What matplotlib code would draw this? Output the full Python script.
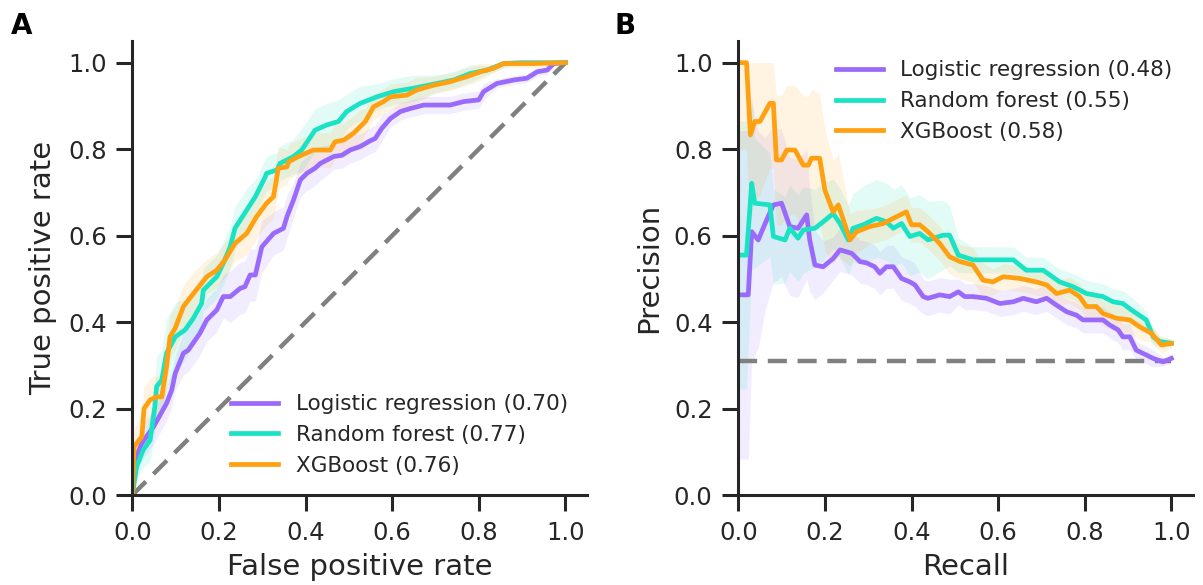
import numpy as np
import matplotlib
matplotlib.use('Agg')
import matplotlib.pyplot as plt

# ROC curves (mean) and spread across folds
lr_fpr = [0, 0.006, 0.022, 0.049, 0.079, 0.091, 0.099, 0.118, 0.129, 0.156, 0.172, 0.195, 0.21, 0.226, 0.249,
          0.26, 0.272, 0.284, 0.299, 0.326, 0.349, 0.357, 0.372, 0.388, 0.403, 0.422, 0.434, 0.465, 0.484, 0.503,
          0.526, 0.545, 0.561, 0.576, 0.596, 0.619, 0.642, 0.673, 0.734, 0.765, 0.8, 0.811, 0.842, 0.881, 0.911,
          0.935, 0.958, 0.973, 1.0]
lr_tpr = [0, 0.081, 0.12, 0.158, 0.212, 0.243, 0.281, 0.328, 0.335, 0.374, 0.405, 0.428, 0.459, 0.459, 0.478,
          0.482, 0.509, 0.509, 0.574, 0.605, 0.617, 0.644, 0.682, 0.729, 0.744, 0.756, 0.767, 0.783, 0.786, 0.798,
          0.806, 0.817, 0.825, 0.848, 0.871, 0.887, 0.894, 0.902, 0.902, 0.91, 0.914, 0.933, 0.952, 0.96, 0.964,
          0.979, 0.983, 0.998, 1.0]
lr_tpr_sd = [0, 0.03, 0.04, 0.04, 0.04, 0.04, 0.04, 0.05, 0.05, 0.05, 0.05, 0.05, 0.05, 0.06, 0.06,
             0.06, 0.06, 0.06, 0.06, 0.05, 0.05, 0.05, 0.04, 0.04, 0.04, 0.04, 0.04, 0.03, 0.03, 0.03,
             0.03, 0.03, 0.03, 0.03, 0.02, 0.02, 0.02, 0.02, 0.02, 0.02, 0.02, 0.02, 0.01, 0.01, 0.01,
             0.01, 0.01, 0.005, 0]

rf_fpr = [0, 0.01, 0.025, 0.041, 0.052, 0.056, 0.068, 0.079, 0.099, 0.122, 0.141, 0.16, 0.164, 0.195, 0.21,
          0.226, 0.237, 0.264, 0.284, 0.307, 0.31, 0.334, 0.341, 0.372, 0.391, 0.422, 0.449, 0.476, 0.495, 0.526,
          0.565, 0.603, 0.649, 0.703, 0.742, 0.78, 0.819, 0.857, 0.896, 1.0]
rf_tpr = [0, 0.066, 0.104, 0.127, 0.204, 0.251, 0.266, 0.328, 0.366, 0.382, 0.409, 0.443, 0.474, 0.505, 0.536,
          0.574, 0.617, 0.659, 0.69, 0.736, 0.744, 0.752, 0.767, 0.783, 0.798, 0.844, 0.856, 0.864, 0.887, 0.906,
          0.921, 0.933, 0.941, 0.952, 0.96, 0.975, 0.983, 0.998, 1.0, 1.0]
rf_tpr_sd = [0, 0.03, 0.04, 0.05, 0.06, 0.07, 0.07, 0.08, 0.08, 0.07, 0.06, 0.05, 0.05, 0.05, 0.05,
             0.05, 0.05, 0.05, 0.04, 0.04, 0.04, 0.04, 0.04, 0.04, 0.05, 0.05, 0.05, 0.05, 0.04, 0.04,
             0.03, 0.03, 0.03, 0.02, 0.02, 0.02, 0.01, 0.01, 0.0, 0.0]

xgb_fpr = [0, 0.004, 0.022, 0.027, 0.041, 0.056, 0.068, 0.079, 0.087, 0.099, 0.118, 0.141, 0.172, 0.195, 0.214,
           0.237, 0.264, 0.287, 0.31, 0.326, 0.337, 0.357, 0.361, 0.384, 0.418, 0.457, 0.468, 0.488, 0.511, 0.526,
           0.538, 0.557, 0.58, 0.596, 0.634, 0.657, 0.696, 0.734, 0.773, 0.804, 0.834, 0.857, 0.923, 1.0]
xgb_tpr = [0, 0.112, 0.135, 0.2, 0.22, 0.227, 0.227, 0.297, 0.366, 0.386, 0.436, 0.466, 0.505, 0.52, 0.544,
           0.582, 0.605, 0.644, 0.675, 0.69, 0.756, 0.759, 0.771, 0.783, 0.798, 0.798, 0.817, 0.821, 0.837, 0.852,
           0.864, 0.898, 0.91, 0.921, 0.925, 0.937, 0.948, 0.956, 0.968, 0.979, 0.987, 0.998, 0.998, 1.0]
xgb_tpr_sd = [0, 0.04, 0.05, 0.05, 0.05, 0.05, 0.05, 0.05, 0.05, 0.05, 0.05, 0.05, 0.04, 0.04, 0.04,
              0.04, 0.05, 0.05, 0.05, 0.05, 0.05, 0.04, 0.04, 0.04, 0.04, 0.04, 0.04, 0.04, 0.04, 0.04,
              0.03, 0.03, 0.03, 0.03, 0.03, 0.03, 0.02, 0.02, 0.02, 0.02, 0.01, 0.01, 0.01, 0.0]

# Precision-recall curves
lr_rec = [0.002, 0.023, 0.031, 0.046, 0.062, 0.081, 0.1, 0.119, 0.138, 0.158, 0.165, 0.177, 0.196, 0.219, 0.235,
          0.262, 0.281, 0.296, 0.315, 0.327, 0.342, 0.358, 0.377, 0.396, 0.408, 0.427, 0.438, 0.465, 0.488, 0.508,
          0.523, 0.542, 0.573, 0.604, 0.635, 0.658, 0.688, 0.712, 0.735, 0.758, 0.781, 0.796, 0.842, 0.858, 0.877,
          0.888, 0.904, 0.919, 0.942, 0.958, 0.981, 1.0]
lr_prec = [0.463, 0.463, 0.609, 0.59, 0.628, 0.671, 0.675, 0.621, 0.617, 0.648, 0.59, 0.532, 0.528, 0.547, 0.567,
           0.559, 0.54, 0.537, 0.528, 0.513, 0.528, 0.528, 0.501, 0.493, 0.486, 0.459, 0.455, 0.463, 0.459, 0.47,
           0.459, 0.459, 0.455, 0.443, 0.447, 0.455, 0.447, 0.455, 0.439, 0.424, 0.416, 0.405, 0.405, 0.393, 0.382,
           0.366, 0.366, 0.335, 0.324, 0.316, 0.308, 0.316]
lr_prec_sd = [0.38, 0.38, 0.3, 0.25, 0.2, 0.18, 0.17, 0.16, 0.16, 0.15, 0.12, 0.08, 0.06, 0.05, 0.05,
              0.05, 0.05, 0.05, 0.05, 0.05, 0.05, 0.05, 0.05, 0.05, 0.05, 0.04, 0.04, 0.04, 0.04, 0.03,
              0.03, 0.03, 0.03, 0.03, 0.03, 0.03, 0.03, 0.03, 0.03, 0.03, 0.03, 0.03, 0.03, 0.03, 0.03,
              0.03, 0.03, 0.02, 0.02, 0.02, 0.01, 0.01]

rf_rec = [0.002, 0.019, 0.031, 0.038, 0.073, 0.081, 0.108, 0.119, 0.138, 0.15, 0.177, 0.196, 0.219, 0.235, 0.254,
          0.265, 0.288, 0.319, 0.342, 0.358, 0.377, 0.396, 0.419, 0.438, 0.473, 0.488, 0.508, 0.542, 0.573, 0.635,
          0.665, 0.704, 0.742, 0.773, 0.804, 0.842, 0.865, 0.888, 0.908, 0.942, 0.958, 0.973, 1.0]
rf_prec = [0.555, 0.555, 0.721, 0.675, 0.671, 0.598, 0.59, 0.617, 0.594, 0.613, 0.617, 0.632, 0.651, 0.628, 0.59,
           0.617, 0.625, 0.64, 0.632, 0.617, 0.628, 0.598, 0.605, 0.59, 0.601, 0.601, 0.555, 0.544, 0.544, 0.544,
           0.52, 0.52, 0.493, 0.482, 0.466, 0.459, 0.447, 0.443, 0.428, 0.405, 0.366, 0.355, 0.351]
rf_prec_sd = [0.31, 0.31, 0.2, 0.15, 0.12, 0.11, 0.1, 0.1, 0.1, 0.1, 0.09, 0.09, 0.08, 0.08, 0.08,
              0.08, 0.09, 0.09, 0.09, 0.09, 0.09, 0.09, 0.09, 0.09, 0.08, 0.07, 0.04, 0.03, 0.03, 0.03,
              0.03, 0.03, 0.03, 0.03, 0.03, 0.03, 0.03, 0.03, 0.03, 0.02, 0.02, 0.01, 0.01]

xgb_rec = [0.002, 0.019, 0.028, 0.038, 0.05, 0.073, 0.081, 0.088, 0.1, 0.112, 0.131, 0.15, 0.162, 0.169, 0.188,
           0.2, 0.219, 0.231, 0.258, 0.273, 0.304, 0.335, 0.358, 0.388, 0.4, 0.419, 0.438, 0.465, 0.488, 0.512,
           0.542, 0.565, 0.588, 0.612, 0.65, 0.688, 0.712, 0.735, 0.765, 0.788, 0.804, 0.827, 0.842, 0.873, 0.904,
           0.927, 0.954, 0.977, 1.0]
xgb_prec = [1.0, 1.0, 0.833, 0.864, 0.864, 0.906, 0.906, 0.775, 0.775, 0.798, 0.798, 0.763, 0.763, 0.779, 0.779,
            0.705, 0.655, 0.671, 0.59, 0.609, 0.621, 0.628, 0.64, 0.655, 0.625, 0.625, 0.609, 0.582, 0.551, 0.54,
            0.532, 0.497, 0.493, 0.505, 0.501, 0.493, 0.486, 0.466, 0.474, 0.459, 0.436, 0.436, 0.42, 0.409, 0.405,
            0.389, 0.374, 0.347, 0.351]
xgb_prec_sd = [0.2, 0.2, 0.2, 0.18, 0.17, 0.15, 0.15, 0.15, 0.15, 0.15, 0.15, 0.16, 0.16, 0.16, 0.15,
               0.14, 0.12, 0.12, 0.06, 0.05, 0.04, 0.04, 0.04, 0.04, 0.04, 0.04, 0.04, 0.04, 0.04, 0.04,
               0.04, 0.04, 0.03, 0.03, 0.03, 0.03, 0.03, 0.03, 0.03, 0.03, 0.03, 0.03, 0.03, 0.03, 0.03,
               0.03, 0.02, 0.02, 0.01]

roc_auc = {'Logistic regression': 0.70, 'Random forest': 0.77, 'XGBoost': 0.76}
pr_auc = {'Logistic regression': 0.48, 'Random forest': 0.55, 'XGBoost': 0.58}
baseline_precision = 0.31
ticks = [0.0, 0.2, 0.4, 0.6, 0.8, 1.0]

colors = {'Logistic regression': '#9a6bfa', 'Random forest': '#19e3c4', 'XGBoost': '#ffa010'}
text_color = '#262626'

plt.rcParams['font.family'] = 'DejaVu Sans'
plt.rcParams['text.color'] = text_color
plt.rcParams['axes.labelcolor'] = text_color
plt.rcParams['xtick.color'] = text_color
plt.rcParams['ytick.color'] = text_color

fig = plt.figure(figsize=(12.03, 5.85), dpi=100)
ax1 = fig.add_axes([0.110, 0.1538, 0.378, 0.776])
ax2 = fig.add_axes([0.6137, 0.1538, 0.378, 0.776])

roc = [('Logistic regression', lr_fpr, lr_tpr, lr_tpr_sd),
       ('Random forest', rf_fpr, rf_tpr, rf_tpr_sd),
       ('XGBoost', xgb_fpr, xgb_tpr, xgb_tpr_sd)]
pr = [('Logistic regression', lr_rec, lr_prec, lr_prec_sd),
      ('Random forest', rf_rec, rf_prec, rf_prec_sd),
      ('XGBoost', xgb_rec, xgb_prec, xgb_prec_sd)]

dash = (0, (4.3, 2.4))
for name, x, y, sd in roc:
    x, y, sd = np.array(x), np.array(y), np.array(sd)
    ax1.fill_between(x, np.maximum(y - sd, 0), np.minimum(y + sd, 1), color=colors[name], alpha=0.12, lw=0)
for name, x, y, sd in roc:
    ax1.plot(x, y, color=colors[name], lw=3.4, label=f'{name} ({roc_auc[name]:.2f})')
ax1.plot([0, 1], [0, 1], color='gray', lw=3.2, linestyle=dash, zorder=1.5)

for name, x, y, sd in pr:
    x, y, sd = np.array(x), np.array(y), np.array(sd)
    ax2.fill_between(x, np.maximum(y - sd, 0), np.minimum(y + sd, 1), color=colors[name], alpha=0.12, lw=0)
for name, x, y, sd in pr:
    ax2.plot(x, y, color=colors[name], lw=3.4, label=f'{name} ({pr_auc[name]:.2f})')
ax2.plot([0, 1], [baseline_precision, baseline_precision], color='gray', lw=3.2, linestyle=dash, zorder=1.5)

for ax in [ax1, ax2]:
    ax.set_xlim(0, 1.05)
    ax.set_ylim(0, 1.05)
    ax.set_xticks(ticks)
    ax.set_yticks(ticks)
    ax.set_xticklabels([f'{t:.1f}' for t in ticks])
    ax.set_yticklabels([f'{t:.1f}' for t in ticks])
    ax.tick_params(labelsize=17.5, length=11.5, width=2.2, pad=7)
    for s in ['top', 'right']:
        ax.spines[s].set_visible(False)
    for s in ['left', 'bottom']:
        ax.spines[s].set_linewidth(2.2)
        ax.spines[s].set_color(text_color)

ax1.set_xlabel('False positive rate', fontsize=21, labelpad=6)
ax1.set_ylabel('True positive rate', fontsize=21, labelpad=8)
ax2.set_xlabel('Recall', fontsize=21, labelpad=6)
ax2.set_ylabel('Precision', fontsize=21, labelpad=8)

ax1.legend(loc='lower right', frameon=False, fontsize=15.5, handlelength=2.2,
           bbox_to_anchor=(1.0, 0.0))
ax2.legend(loc='upper right', frameon=False, fontsize=15.5, handlelength=2.2,
           bbox_to_anchor=(0.998, 1.0))

fig.text(0.009, 0.942, 'A', fontsize=20, fontweight='bold', color='black')
fig.text(0.511, 0.942, 'B', fontsize=20, fontweight='bold', color='black')

fig.savefig('out.png', dpi=100)
